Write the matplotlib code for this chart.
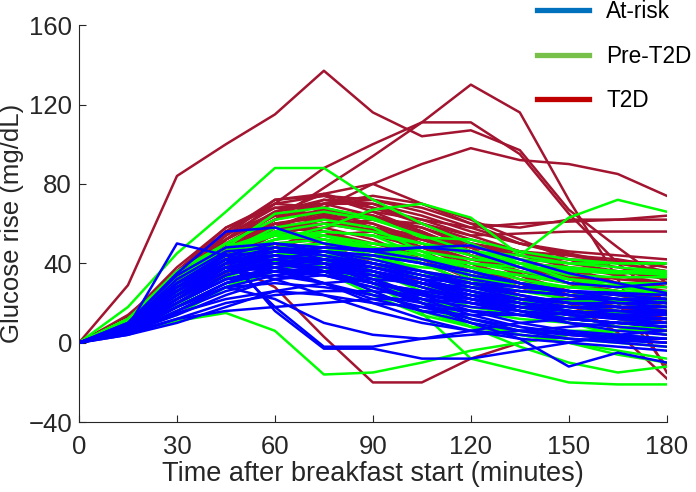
import numpy as np
import matplotlib
matplotlib.use("Agg")
import matplotlib.pyplot as plt
from matplotlib.lines import Line2D

plt.rcParams['font.family'] = ['Liberation Sans', 'DejaVu Sans']

# sampling times (minutes after breakfast start)
times = [0, 15, 30, 45, 60, 75, 90, 105, 120, 135, 150, 165, 180]

# glucose rise curves (mg/dL), one row per participant
t2d = [
    [0, 29, 84, 100, 115, 137, 116, 104, 107, 97, 67, 48, 30],
    [0, 14, 35, 52, 70, 88, 100, 111, 130, 116, 72, 32, -15],
    [0, 12, 32, 50, 62, 78, 94, 111, 111, 95, 65, 40, 20],
    [0, 10, 30, 45, 58, 68, 80, 90, 98, 92, 90, 85, 74],
    [0, 12, 35, 55, 65, 75, 80, 70, 60, 50, 45, 40, 36],
    [0, 10, 28, 48, 62, 70, 72, 68, 60, 58, 62, 62, 64],
    [0, 11, 33, 52, 66, 72, 68, 62, 58, 60, 61, 62, 62],
    [0, 9, 30, 50, 64, 66, 62, 60, 54, 55, 56, 56, 56],
    [0, 13, 38, 58, 70, 68, 62, 55, 48, 44, 42, 41, 40],
    [0, 10, 28, 44, 58, 66, 64, 56, 46, 38, 33, 30, 28],
    [0, 8, 25, 42, 56, 62, 60, 52, 44, 40, 38, 36, 33],
    [0, 11, 30, 50, 60, 64, 58, 50, 42, 36, 30, 26, 22],
    [0, 9, 27, 45, 62, 72, 70, 60, 50, 42, 36, 32, 30],
    [0, 12, 36, 56, 72, 74, 66, 56, 44, 34, 24, 18, 12],
    [0, 8, 22, 40, 55, 60, 56, 48, 40, 32, 26, 20, 16],
    [0, 10, 28, 40, 28, 3, -20, -20, -8, 0, 4, 2, 0],
    [0, 7, 20, 35, 48, 58, 62, 58, 48, 35, 20, 5, -18],
    [0, 9, 26, 44, 60, 63, 56, 46, 36, 28, 22, 16, 10],
    [0, 11, 32, 48, 58, 56, 50, 44, 38, 34, 30, 28, 25],
    [0, 10, 30, 46, 54, 60, 64, 58, 50, 44, 38, 34, 30],
    [0, 8, 24, 38, 50, 52, 48, 40, 30, 22, 14, 8, 4],
    [0, 12, 34, 52, 64, 65, 60, 50, 40, 30, 20, 12, 6],
    [0, 9, 28, 46, 56, 58, 52, 42, 32, 24, 18, 14, 12],
    [0, 10, 26, 42, 52, 56, 54, 48, 42, 38, 34, 30, 26],
    [0, 11, 30, 48, 62, 67, 64, 56, 46, 38, 32, 24, 18],
    [0, 8, 22, 36, 44, 48, 46, 40, 34, 28, 22, 18, 15],
    [0, 13, 36, 54, 68, 70, 64, 54, 44, 34, 26, 20, -12],
    [0, 10, 30, 45, 54, 50, 40, 30, 22, 16, 12, 10, 8],
    [0, 9, 25, 42, 55, 64, 58, 48, 38, 30, 28, 34, 40],
    [0, 10, 28, 44, 58, 60, 57, 52, 48, 46, 44, 42, 38],
    [0, 11, 34, 56, 70, 74, 72, 66, 58, 50, 44, 40, 36],
    [0, 9, 30, 52, 66, 70, 70, 64, 56, 50, 46, 44, 42],
    [0, 12, 36, 58, 68, 64, 58, 54, 50, 46, 42, 38, 33],
    [0, 10, 32, 54, 72, 75, 68, 60, 52, 46, 40, 36, 32],
    [0, 8, 26, 46, 62, 70, 74, 70, 62, 52, 42, 34, 28],
    [0, 11, 33, 50, 58, 62, 66, 62, 54, 46, 38, 30, 24],
    [0, 10, 30, 48, 60, 56, 48, 40, 34, 30, 26, 22, 20],
    [0, 9, 24, 38, 48, 54, 56, 52, 44, 36, 30, 26, 22],
]

pre_t2d = [
    [0, 18, 45, 66, 88, 88, 72, 60, 50, 40, 32, 28, 24],
    [0, 10, 28, 44, 52, 58, 67, 70, 63, 44, 63, 72, 66],
    [0, 5, 11, 15, 6, -16, -15, -10, -4, 0, 4, 6, 8],
    [0, 8, 24, 40, 46, 42, 30, 15, -8, -14, -20, -21, -21],
    [0, 9, 24, 38, 46, 44, 34, 20, 8, -2, -10, -15, -12],
    [0, 12, 34, 50, 62, 66, 62, 54, 46, 42, 40, 40, 40],
    [0, 10, 30, 46, 56, 60, 56, 50, 44, 38, 36, 35, 35],
    [0, 8, 26, 42, 52, 56, 54, 50, 46, 40, 34, 33, 33],
    [0, 11, 32, 48, 55, 52, 46, 40, 34, 30, 28, 29, 30],
    [0, 7, 20, 34, 44, 48, 46, 40, 34, 28, 24, 22, 22],
    [0, 9, 26, 40, 48, 50, 44, 36, 28, 22, 20, 20, 20],
    [0, 10, 28, 44, 50, 46, 36, 26, 18, 14, 12, 14, 16],
    [0, 12, 36, 50, 48, 40, 30, 22, 16, 12, 10, 8, 8],
    [0, 8, 22, 36, 44, 44, 40, 34, 30, 26, 24, 25, 26],
    [0, 6, 16, 28, 40, 46, 48, 44, 38, 32, 28, 26, 25],
    [0, 9, 24, 36, 42, 40, 32, 22, 12, 6, 2, 0, -2],
    [0, 11, 30, 44, 46, 38, 26, 16, 8, 4, 0, -4, -8],
    [0, 10, 28, 42, 48, 46, 40, 32, 26, 22, 18, 16, 14],
    [0, 7, 18, 30, 38, 42, 40, 36, 32, 30, 28, 26, 24],
    [0, 12, 32, 46, 58, 62, 58, 46, 34, 22, 14, 8, 4],
    [0, 8, 24, 40, 52, 54, 46, 36, 26, 18, 12, 10, 10],
    [0, 9, 27, 42, 46, 44, 36, 28, 22, 18, 16, 15, 14],
    [0, 10, 30, 46, 50, 48, 42, 38, 36, 34, 32, 30, 30],
    [0, 6, 14, 28, 36, 42, 44, 42, 38, 34, 30, 28, 28],
    [0, 11, 34, 48, 54, 52, 46, 40, 30, 20, 10, 4, 2],
    [0, 8, 20, 34, 40, 38, 30, 20, 10, 4, 0, -6, -10],
    [0, 10, 26, 40, 48, 50, 50, 48, 46, 44, 40, 38, 36],
    [0, 9, 25, 38, 44, 42, 36, 30, 24, 20, 18, 18, 18],
    [0, 10, 29, 44, 52, 56, 54, 44, 32, 22, 16, 12, 10],
    [0, 7, 19, 33, 41, 36, 24, 14, 8, 6, 6, 6, 6],
    [0, 12, 32, 48, 65, 68, 63, 53, 52, 46, 42, 40, 40],
    [0, 10, 30, 46, 54, 54, 50, 46, 42, 40, 38, 36, 34],
    [0, 8, 24, 38, 46, 48, 46, 42, 40, 38, 37, 36, 36],
    [0, 11, 32, 48, 56, 54, 48, 42, 36, 30, 26, 24, 22],
    [0, 9, 26, 42, 50, 52, 48, 44, 40, 36, 32, 28, 25],
    [0, 7, 22, 36, 44, 46, 42, 36, 30, 26, 22, 20, 18],
    [0, 10, 28, 42, 44, 40, 34, 28, 24, 22, 21, 21, 21],
]

at_risk = [
    [0, 8, 50, 44, 40, 36, 30, 25, 20, 16, 12, 10, 8],
    [0, 10, 35, 56, 58, 50, 46, 48, 49, 42, 35, 30, 25],
    [0, 8, 30, 45, 16, -3, -3, -8, -8, -4, 0, 4, 6],
    [0, 7, 28, 42, 18, -2, -2, 2, 6, 10, 12, 14, 15],
    [0, 6, 22, 38, 44, 40, 30, 20, 10, 2, -12, -5, -10],
    [0, 5, 18, 30, 38, 42, 40, 34, 28, 22, 18, 16, 15],
    [0, 8, 26, 40, 46, 44, 40, 34, 28, 24, 20, 18, 18],
    [0, 9, 30, 42, 44, 40, 34, 28, 22, 18, 14, 12, 10],
    [0, 6, 20, 34, 42, 46, 44, 40, 34, 30, 26, 22, 20],
    [0, 7, 24, 38, 40, 36, 30, 26, 22, 18, 16, 14, 12],
    [0, 5, 16, 28, 34, 36, 34, 30, 26, 22, 20, 18, 16],
    [0, 8, 28, 44, 50, 48, 46, 42, 36, 30, 26, 24, 22],
    [0, 4, 10, 18, 26, 30, 32, 30, 28, 26, 24, 22, 20],
    [0, 6, 18, 28, 30, 28, 24, 20, 16, 14, 12, 10, 8],
    [0, 9, 32, 46, 48, 42, 36, 30, 26, 22, 20, 20, 20],
    [0, 7, 22, 36, 40, 38, 32, 24, 16, 10, 6, 4, 2],
    [0, 5, 14, 24, 32, 36, 36, 32, 26, 20, 16, 12, 10],
    [0, 8, 26, 40, 42, 36, 26, 16, 10, 6, 4, 2, 0],
    [0, 6, 20, 32, 38, 40, 38, 34, 30, 28, 26, 25, 24],
    [0, 7, 24, 36, 38, 34, 28, 22, 18, 16, 14, 13, 12],
    [0, 10, 34, 48, 50, 46, 40, 36, 32, 28, 26, 24, 22],
    [0, 4, 12, 20, 24, 26, 26, 24, 22, 20, 18, 16, 14],
    [0, 6, 18, 30, 36, 34, 28, 20, 12, 6, 2, 0, -2],
    [0, 8, 26, 38, 36, 30, 22, 16, 14, 14, 15, 16, 16],
    [0, 5, 16, 26, 32, 34, 30, 26, 24, 22, 22, 22, 22],
    [0, 9, 30, 44, 46, 48, 47, 48, 46, 38, 30, 28, 30],
    [0, 7, 22, 34, 40, 42, 38, 32, 24, 16, 10, 6, 4],
    [0, 6, 20, 32, 36, 36, 34, 30, 24, 20, 16, 14, 12],
    [0, 8, 28, 40, 44, 40, 32, 22, 14, 8, 4, 2, 2],
    [0, 5, 15, 22, 26, 24, 20, 18, 16, 14, 12, 10, 10],
    [0, 7, 26, 40, 46, 46, 42, 36, 30, 26, 24, 22, 20],
    [0, 6, 18, 28, 22, 10, 4, 2, 4, 6, 8, 10, 10],
    [0, 9, 28, 38, 32, 24, 16, 10, 6, 4, 2, 1, 0],
    [0, 6, 22, 36, 44, 42, 36, 28, 20, 14, 10, 8, 6],
    [0, 8, 24, 40, 48, 44, 38, 32, 30, 28, 26, 25, 24],
    [0, 7, 20, 32, 34, 30, 24, 18, 12, 8, 5, 3, 2],
    [0, 5, 12, 16, 18, 20, 22, 22, 20, 18, 16, 14, 12],
    [0, 8, 30, 42, 38, 30, 20, 12, 6, 2, 0, -2, -4],
    [0, 7, 26, 42, 48, 46, 44, 40, 36, 30, 24, 20, 18],
    [0, 6, 20, 34, 40, 42, 40, 36, 30, 24, 20, 18, 16],
    [0, 8, 28, 42, 44, 42, 38, 32, 26, 20, 16, 14, 14],
    [0, 5, 18, 30, 36, 38, 36, 30, 22, 16, 12, 10, 8],
    [0, 7, 24, 38, 42, 40, 36, 30, 24, 18, 14, 12, 12],
    [0, 6, 22, 36, 40, 36, 30, 24, 20, 18, 18, 18, 18],
]

groups = ["At-risk", "Pre-T2D", "T2D"]
line_colors = {"T2D": "#A2142F", "Pre-T2D": "#00FF00", "At-risk": "#0000FF"}
legend_colors = {"At-risk": "#0072BD", "Pre-T2D": "#77C14A", "T2D": "#C00000"}

fig = plt.figure(figsize=(6.96, 4.92), dpi=100)
ax = fig.add_axes([0.1135, 0.142, 0.8445, 0.807])

for curve in t2d:
    ax.plot(times, curve, color=line_colors["T2D"], lw=1.8)
for curve in pre_t2d:
    ax.plot(times, curve, color=line_colors["Pre-T2D"], lw=1.8)
for curve in at_risk:
    ax.plot(times, curve, color=line_colors["At-risk"], lw=1.8)

ax.set_xlim(0, 180)
ax.set_ylim(-40, 160)
ax.set_xticks(range(0, 181, 30))
ax.set_yticks(range(-40, 161, 40))
ax.spines['top'].set_visible(False)
ax.spines['right'].set_visible(False)
for s in ['left', 'bottom']:
    ax.spines[s].set_color('#262626')
    ax.spines[s].set_linewidth(0.8)
ax.tick_params(direction='in', length=5, labelsize=18.5, colors='#262626', width=0.8)
ax.tick_params(axis='x', pad=9)
ax.tick_params(axis='y', pad=5)
ax.set_xlabel("Time after breakfast start (minutes)", fontsize=19.5, color='#262626', labelpad=2)
ax.set_ylabel("Glucose rise (mg/dL)", fontsize=18.5, color='#262626', labelpad=3)

handles = [Line2D([], [], color=legend_colors[g], lw=3.8) for g in groups]
fig.legend(handles, groups, loc='upper left', bbox_to_anchor=(537 / 696, 1.0),
           frameon=False, fontsize=16.3, handlelength=2.3, handletextpad=0.75,
           labelspacing=0.95, borderpad=0, borderaxespad=0)

fig.savefig("out.png", dpi=100)
